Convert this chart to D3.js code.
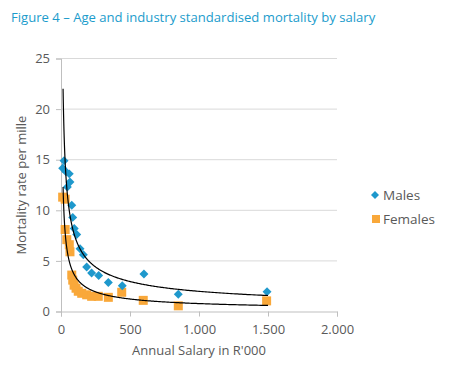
<!DOCTYPE html>
<html><head><meta charset="utf-8">
<script src="https://cdn.jsdelivr.net/npm/d3@7"></script>
<style>body{margin:0;background:#fff}svg{display:block}</style>
</head><body>
<svg id="c" width="450" height="381"></svg>
<script>
const title = "Figure 4 \u2013 Age and industry standardised mortality by salary";
const xTitle = "Annual Salary in R'000";
const yTitle = "Mortality rate per mille";
const xTicks = [0, 500, 1000, 1500, 2000];
const xTickLabels = ["0", "500", "1.000", "1.500", "2.000"];
const yTicks = [0, 5, 10, 15, 20, 25];
const seriesNames = ["Males", "Females"];
const malesSalary = [22, 12, 36, 60, 65, 46, 78, 85, 96, 114, 138, 162, 186, 222, 273, 343, 444, 601, 850, 1493];
const malesRate = [14.9, 14.15, 13.8, 13.6, 12.8, 12.3, 10.5, 9.3, 8.2, 7.6, 6.2, 5.6, 4.4, 3.8, 3.55, 2.86, 2.54, 3.7, 1.7, 1.95];
const femalesSalary = [12, 30, 30, 42, 60, 65, 78, 85, 95, 109, 125, 150, 186, 222, 270, 343, 440, 596, 850, 1490];
const femalesRate = [11.3, 11.1, 8.1, 7.1, 6.6, 5.9, 3.6, 3.1, 2.6, 2.3, 2.0, 1.8, 1.65, 1.5, 1.5, 1.4, 1.9, 1.1, 0.56, 1.05];
// power trendlines y = a * x^b
const malesTrend = {a: 103.6, b: -0.572, from: 15, to: 1500};
const femalesTrend = {a: 72.7, b: -0.656, from: 15, to: 1500};

const svg = d3.select("#c");
const grey = "#595959";
const font = "'Open Sans', sans-serif";
const x = d3.scaleLinear().domain([0, 2000]).range([61, 337]);
const y = d3.scaleLinear().domain([0, 25]).range([311.5, 58.5]);

svg.append("text").attr("x", 11).attr("y", 22).attr("fill", "#1b9ccc")
  .attr("font-family", font).attr("font-size", 13.1).text(title);

// gridlines
svg.append("g").selectAll("line").data(yTicks.filter(d => d > 0)).join("line")
  .attr("x1", x(0)).attr("x2", x(2000)).attr("y1", d => y(d)).attr("y2", d => y(d))
  .attr("stroke", "#d9d9d9").attr("stroke-width", 1);

const yAxis = svg.append("g").attr("transform", `translate(${x(0)},0)`)
  .call(d3.axisLeft(y).tickValues(yTicks).tickSize(5).tickPadding(6).tickFormat(d3.format("d")));
const xAxis = svg.append("g").attr("transform", `translate(0,${y(0)})`)
  .call(d3.axisBottom(x).tickValues(xTicks).tickSize(5).tickPadding(8).tickFormat((d, i) => xTickLabels[i]));
[yAxis, xAxis].forEach(g => {
  g.select(".domain").attr("stroke", "#bfbfbf");
  g.selectAll(".tick line").attr("stroke", "#bfbfbf");
  g.selectAll("text").attr("fill", grey).attr("font-family", font).attr("font-size", 13);
});

svg.append("text").attr("x", (x(0) + x(2000)) / 2).attr("y", 355).attr("text-anchor", "middle")
  .attr("fill", grey).attr("font-family", font).attr("font-size", 13).text(xTitle);
svg.append("text").attr("transform", `translate(26,${(y(0) + y(25)) / 2}) rotate(-90)`)
  .attr("text-anchor", "middle").attr("fill", grey).attr("font-family", font).attr("font-size", 13).text(yTitle);

const blue = "#1e98cc", orange = "#f9a83a";
const males = malesSalary.map((s, i) => [s, malesRate[i]]);
const females = femalesSalary.map((s, i) => [s, femalesRate[i]]);

svg.append("g").selectAll("rect").data(females).join("rect")
  .attr("x", d => x(d[0]) - 4.5).attr("y", d => y(d[1]) - 4.5).attr("width", 9).attr("height", 9).attr("fill", orange);
svg.append("g").selectAll("path").data(males).join("path")
  .attr("transform", d => `translate(${x(d[0])},${y(d[1])}) rotate(45)`)
  .attr("d", d3.symbol().type(d3.symbolSquare).size(40)).attr("fill", blue);

function trend(t) {
  const pts = d3.range(0, 401).map(i => {
    const s = t.from * Math.pow(t.to / t.from, i / 400);
    return [s, t.a * Math.pow(s, t.b)];
  });
  svg.append("path").datum(pts).attr("fill", "none").attr("stroke", "#000").attr("stroke-width", 1.2)
    .attr("d", d3.line().x(d => x(d[0])).y(d => y(d[1])));
}
trend(malesTrend);
trend(femalesTrend);

// legend
const leg = svg.append("g");
leg.append("path").attr("transform", "translate(375,195) rotate(45)")
  .attr("d", d3.symbol().type(d3.symbolSquare).size(32)).attr("fill", blue);
leg.append("rect").attr("x", 372).attr("y", 215).attr("width", 8).attr("height", 8).attr("fill", orange);
leg.selectAll("text").data(seriesNames).join("text")
  .attr("x", 383).attr("y", (d, i) => 200 + i * 24).attr("fill", grey)
  .attr("font-family", font).attr("font-size", 13.5).text(d => d);
</script>
</body></html>
